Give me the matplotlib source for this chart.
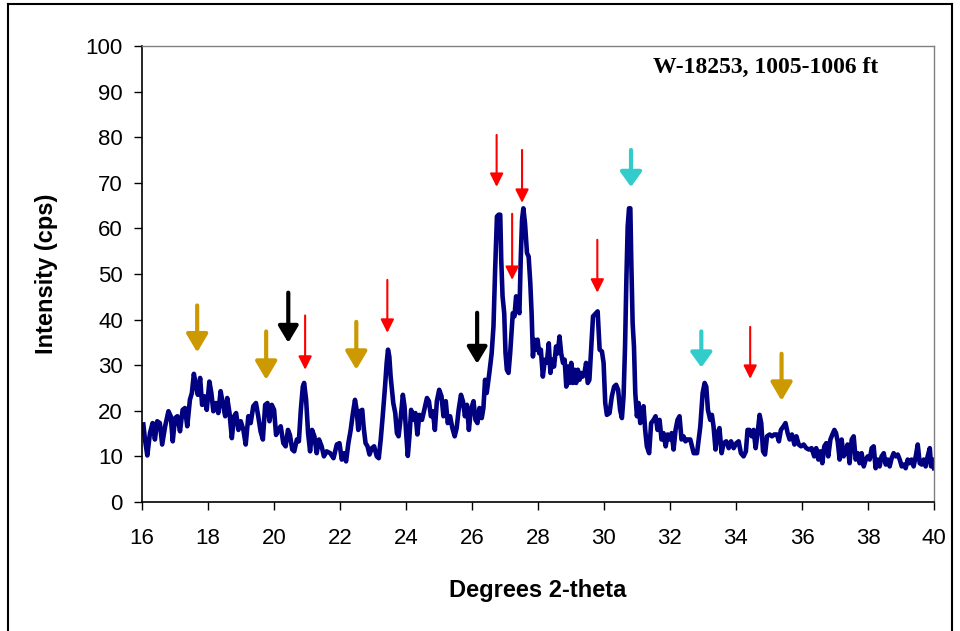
import matplotlib
matplotlib.use("Agg")
import matplotlib.pyplot as plt
from matplotlib.lines import Line2D

# XRD scan (2-theta in degrees, intensity in cps)
two_theta = [
    16.05, 16.10, 16.17, 16.25, 16.33, 16.40, 16.47, 16.55, 16.62, 16.71,
    16.81, 16.88, 16.94, 17.01, 17.08, 17.16, 17.24, 17.31, 17.38, 17.46,
    17.52, 17.58, 17.65, 17.70, 17.77, 17.83, 17.89, 17.97, 18.05, 18.11,
    18.17, 18.25, 18.32, 18.39, 18.47, 18.53, 18.59, 18.66, 18.73, 18.80,
    18.86, 18.93, 19.00, 19.08, 19.15, 19.23, 19.30, 19.38, 19.46, 19.53,
    19.60, 19.67, 19.74, 19.81, 19.87, 19.94, 20.01, 20.07, 20.14, 20.21,
    20.29, 20.36, 20.43, 20.49, 20.56, 20.62, 20.70, 20.76, 20.82, 20.88,
    20.92, 20.98, 21.04, 21.10, 21.16, 21.23, 21.30, 21.37, 21.45, 21.52,
    21.60,
    21.71, 21.81, 21.91, 21.99, 22.06, 22.13, 22.19, 22.26, 22.33, 22.39,
    22.46, 22.51, 22.56, 22.61, 22.68, 22.72, 22.78, 22.84, 22.90, 22.97,
    23.04, 23.12, 23.18, 23.24, 23.30, 23.37, 23.42, 23.46, 23.50, 23.54,
    23.58, 23.62, 23.68, 23.73, 23.78, 23.85, 23.91, 23.96, 24.01, 24.06,
    24.11, 24.16, 24.23, 24.29, 24.35, 24.41, 24.49, 24.57, 24.64, 24.70,
    24.76, 24.82, 24.88, 24.94, 25.01, 25.08, 25.14, 25.21, 25.27, 25.34,
    25.41, 25.48, 25.54, 25.60, 25.67, 25.73, 25.79, 25.85, 25.91, 25.97,
    26.05, 26.11, 26.17, 26.23, 26.30,
    26.35, 26.40, 26.45, 26.53, 26.60, 26.655, 26.705, 26.76, 26.81, 26.86,
    26.89, 26.93, 26.98, 27.02, 27.06, 27.11, 27.16, 27.20, 27.24, 27.29,
    27.34, 27.39, 27.44, 27.48, 27.52, 27.56, 27.61, 27.67, 27.72, 27.77,
    27.81, 27.85, 27.89, 27.94, 27.99, 28.04, 28.09, 28.15, 28.21, 28.27,
    28.33, 28.38, 28.43, 28.49, 28.55, 28.60, 28.655, 28.705, 28.76, 28.81,
    28.86, 28.91, 28.96, 29.01, 29.06, 29.11, 29.16, 29.21, 29.26, 29.31,
    29.36, 29.41, 29.46, 29.51, 29.56,
    29.67, 29.81, 29.87, 29.94, 29.99, 30.04, 30.09, 30.17, 30.24, 30.31,
    30.37, 30.43, 30.49, 30.545, 30.595, 30.64, 30.68, 30.72, 30.76, 30.80,
    30.83, 30.87, 30.91, 30.95, 31.00, 31.05, 31.10, 31.15, 31.20, 31.25,
    31.30, 31.37, 31.43, 31.505, 31.565, 31.625, 31.685, 31.745, 31.805, 31.87,
    31.93, 31.99, 32.05, 32.11, 32.17, 32.23, 32.29, 32.35, 32.41, 32.47,
    32.53,
    32.615, 32.72, 32.82, 32.92, 32.99, 33.05, 33.10, 33.15, 33.22, 33.27,
    33.32, 33.38, 33.44, 33.50, 33.565, 33.625, 33.705, 33.78, 33.85, 33.93,
    34.01, 34.08, 34.15, 34.23, 34.30, 34.35, 34.41, 34.475, 34.535, 34.595,
    34.655, 34.715, 34.765, 34.82, 34.88, 34.94, 35.02, 35.09, 35.16, 35.24,
    35.30, 35.36, 35.44, 35.50, 35.565, 35.625, 35.695, 35.77, 35.83, 35.90,
    35.97, 36.05, 36.13, 36.21, 36.29, 36.37, 36.43, 36.495, 36.555, 36.615,
    36.675, 36.735, 36.795, 36.86, 36.92, 36.98, 37.03, 37.08, 37.14, 37.20,
    37.26, 37.32, 37.38, 37.44, 37.505, 37.565, 37.625, 37.685, 37.745, 37.805,
    37.87, 37.93, 37.99, 38.05, 38.11, 38.17, 38.23, 38.29, 38.35, 38.41,
    38.475, 38.535, 38.595, 38.655, 38.715, 38.775, 38.835, 38.90, 38.96, 39.02,
    39.08, 39.14, 39.20, 39.26, 39.32, 39.38, 39.445, 39.505, 39.565, 39.625,
    39.685, 39.745, 39.805, 39.87, 39.91, 39.97, 40.00,
]
intensity = [
    17.0, 13.7, 10.2, 15.1, 17.3, 13.7, 17.7, 17.3, 12.6, 16.6,
    19.9, 18.8, 13.3, 18.4, 18.8, 15.5, 20.2, 20.6, 16.6, 22.4,
    23.9, 28.1, 25.3, 23.5, 27.2, 21.3, 23.2, 20.2, 26.4, 23.9,
    19.9, 21.7, 19.5, 24.3, 21.0, 18.8, 22.8, 19.5, 14.0, 18.8,
    19.5, 15.8, 17.7, 15.8, 12.6, 18.8, 17.3, 21.0, 21.7, 18.8,
    15.5, 13.7, 21.3, 21.7, 17.7, 21.3, 20.2, 14.7, 15.8, 16.6,
    12.9, 12.2, 15.8, 14.7, 11.5, 11.1, 13.7, 13.3, 20.2, 25.3,
    26.1, 22.4, 15.1, 11.1, 15.8, 14.4, 10.7, 13.7, 12.2, 10.0,
    11.1,
    10.7, 9.6, 12.6, 12.9, 9.3, 10.7, 8.9, 12.9, 15.8, 19.1,
    22.4, 20.2, 15.8, 19.9, 20.2, 16.6, 12.9, 12.2, 10.4, 11.8,
    12.2, 10.0, 9.6, 13.7, 18.8, 25.3, 30.5, 33.4, 31.9, 27.5,
    24.6, 21.7, 19.5, 15.1, 14.4, 18.8, 23.5, 21.0, 15.1, 10.1,
    14.4, 20.2, 18.0, 19.5, 14.8, 19.1, 18.0, 20.6, 22.8, 22.1,
    18.8, 19.9, 15.8, 22.1, 24.6, 23.2, 18.8, 22.1, 17.3, 18.8,
    16.2, 14.4, 16.2, 20.2, 23.5, 22.1, 18.8, 21.3, 15.8, 20.2,
    22.1, 18.0, 17.3, 20.6, 18.4,
    20.6, 26.8, 23.9, 28.3, 32.6, 38.5, 50.9, 62.6, 63.0, 63.0,
    53.1, 45.1, 41.4, 32.6, 29.0, 28.3, 32.6, 37.0, 41.4, 40.7,
    45.1, 42.9, 41.4, 53.1, 61.9, 64.4, 61.1, 54.6, 53.8, 48.0,
    41.4, 31.9, 35.6, 33.4, 35.6, 32.6, 33.4, 27.5, 31.2, 30.5,
    34.8, 28.3, 31.2, 29.7, 34.1, 32.6, 36.3, 32.6, 30.5, 31.2,
    25.3, 29.7, 26.1, 30.5, 26.1, 29.0, 26.1, 29.0, 26.8, 28.3,
    27.5, 28.3, 30.5, 26.1, 26.8,
    40.7, 41.8, 33.4, 33.0, 30.5, 21.7, 19.1, 19.5, 23.2, 25.3,
    25.7, 24.6, 20.2, 18.4, 23.2, 34.1, 48.7, 60.4, 64.4, 64.4,
    52.4, 39.2, 34.1, 23.9, 18.8, 21.7, 17.3, 18.8, 21.0, 15.8,
    12.2, 10.7, 17.3, 18.0, 18.8, 15.8, 18.0, 13.7, 15.1, 12.2,
    14.8, 13.7, 15.1, 11.5, 15.8, 18.0, 18.8, 13.7, 14.4, 13.3,
    13.7,
    13.7, 10.7, 10.7, 16.6, 23.9, 26.1, 25.3, 20.2, 18.0, 19.1,
    16.6, 11.5, 15.1, 16.2, 10.7, 12.9, 13.3, 11.8, 13.3, 11.8,
    12.9, 13.3, 10.7, 10.0, 11.1, 15.8, 15.8, 14.4, 15.8, 11.8,
    15.1, 19.1, 17.3, 11.1, 10.4, 14.4, 14.8, 14.4, 14.8, 14.8,
    13.3, 15.8, 16.6, 17.3, 15.1, 13.7, 14.8, 12.6, 14.4, 12.6,
    12.2, 12.6, 11.8, 11.5, 11.8, 10.0, 11.8, 9.3, 11.1, 8.5,
    12.2, 12.9, 10.0, 13.7, 14.8, 15.8, 15.1, 13.3, 9.3, 13.7,
    10.0, 11.1, 12.6, 8.5, 13.7, 14.4, 9.3, 10.7, 8.5, 10.7,
    7.8, 9.3, 10.0, 9.3, 11.8, 12.2, 7.4, 9.3, 7.8, 10.0,
    10.7, 8.2, 9.3, 7.8, 9.6, 10.7, 10.0, 10.4, 9.3, 7.8,
    8.2, 7.4, 9.3, 8.5, 9.3, 7.8, 10.0, 12.6, 8.5, 8.2,
    9.3, 7.8, 10.0, 11.8, 7.8, 9.3, 7.4,
]

# peak markers: position, arrow top, arrow tip (in cps), mineral colour
arrow_x = [17.68, 19.77, 22.50, 35.38, 20.44, 26.16,
           20.95, 23.44, 26.75, 27.22, 27.52, 29.80, 34.43,
           30.82, 32.95]
arrow_top = [43.1, 37.4, 39.5, 32.5, 45.9, 41.5,
             40.9, 48.7, 80.5, 63.2, 77.2, 57.5, 38.4,
             77.2, 37.4]
arrow_tip = [32.8, 26.8, 29.0, 22.2, 34.9, 30.3,
             29.0, 37.1, 69.1, 48.7, 65.6, 45.9, 27.0,
             69.1, 29.5]
arrow_kind = ["gold"] * 4 + ["black"] * 2 + ["red"] * 7 + ["cyan"] * 2

styles = {
    "gold": dict(color="#CC9900", lw=3.0, hl=11, hw=6.5),
    "black": dict(color="black", lw=3.0, hl=10, hw=6.0),
    "red": dict(color="red", lw=1.5, hl=8, hw=4.0),
    "cyan": dict(color="#33CCCC", lw=3.0, hl=9, hw=6.5),
}

plt.rcParams["font.family"] = ["Liberation Sans", "DejaVu Sans"]

fig = plt.figure(figsize=(9.6, 6.31), dpi=100)
ax = fig.add_axes([0.1476, 0.2045, 0.8254, 0.7226])

ax.plot(two_theta, intensity, color="#000080", lw=3.3, solid_joinstyle="round")

for x, top, tip, kind in zip(arrow_x, arrow_top, arrow_tip, arrow_kind):
    s = styles[kind]
    ax.annotate("", xy=(x, tip), xytext=(x, top),
                arrowprops=dict(arrowstyle=f"-|>,head_length={s['hl']},head_width={s['hw']}",
                                mutation_scale=1, color=s["color"], lw=s["lw"],
                                shrinkA=0, shrinkB=0))

ax.set_xlim(16, 40)
ax.set_ylim(0, 100)
ax.set_xticks(range(16, 41, 2))
ax.set_yticks(range(0, 101, 10))
ax.tick_params(direction="out", length=5.5, width=1, labelsize=16)
ax.tick_params(axis="y", pad=8)
ax.tick_params(axis="x", pad=13)

for side in ["left", "bottom"]:
    ax.spines[side].set_color("black")
    ax.spines[side].set_linewidth(1.2)
for side in ["top", "right"]:
    ax.spines[side].set_color("#808080")
    ax.spines[side].set_linewidth(1.0)

ax.set_xlabel("Degrees 2-theta", fontsize=17, fontweight="bold", labelpad=22)
ax.set_ylabel("Intensity (cps)", fontsize=17, fontweight="bold", labelpad=20)

ax.text(0.788, 0.952, "W-18253, 1005-1006 ft", transform=ax.transAxes,
        ha="center", va="center", fontsize=17, fontweight="bold",
        family=["Liberation Serif", "DejaVu Serif"])

# outer frame of the original chart object
fig.add_artist(Line2D([0.0085, 0.0085], [0.0, 0.994], color="black", lw=1.5))
fig.add_artist(Line2D([0.0085, 0.992], [0.994, 0.994], color="black", lw=1.5))
fig.add_artist(Line2D([0.992, 0.992], [0.0, 0.994], color="black", lw=1.5))

fig.savefig("out.png", dpi=100)
